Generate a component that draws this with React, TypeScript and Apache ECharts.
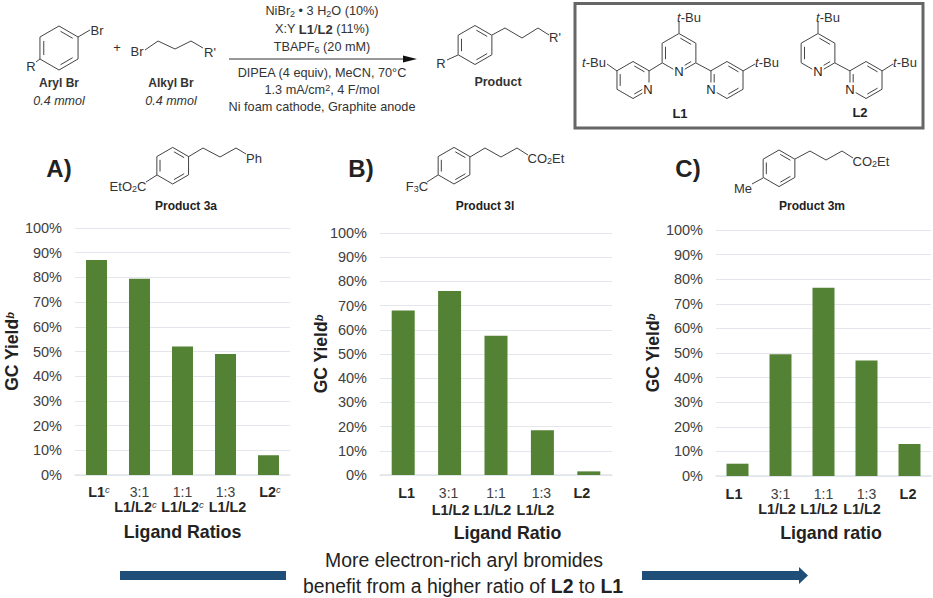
import React, { useEffect, useRef } from "react";
import * as echarts from "echarts";

const FONT = "Liberation Sans";
const INK = "#333333";

const yieldTicks = 10;
const categoriesA = ["L1^c", "3:1\nL1/L2^c", "1:1\nL1/L2^c", "1:3\nL1/L2", "L2^c"];
const categoriesB = ["L1", "3:1\nL1/L2", "1:1\nL1/L2", "1:3\nL1/L2", "L2"];
const categoriesC = ["L1", "3:1\nL1/L2", "1:1\nL1/L2", "1:3\nL1/L2", "L2"];
const yieldA = [87, 79.5, 52, 49, 8];
const yieldB = [68, 76, 57.5, 18.5, 1.5];
const yieldC = [5, 49.5, 76.5, 47, 13];

const richSmall = {
  s: { fontSize: 9, fontFamily: FONT, fill: INK, padding: [5, 0, 0, 0] },
  u: { fontSize: 9, fontFamily: FONT, fill: INK, padding: [0, 0, 5, 0] },
  b: { fontWeight: "bold", fontSize: 13, fontFamily: FONT, fill: INK },
  i: { fontStyle: "italic", fontSize: 13, fontFamily: FONT, fill: INK },
};

function t(text: string, x: number, y: number, o: any = {}) {
  return {
    type: "text",
    x,
    y,
    z: o.z ?? 10,
    style: {
      text,
      fontFamily: FONT,
      fontSize: o.size ?? 13,
      fontWeight: o.weight ?? "normal",
      fontStyle: o.style ?? "normal",
      fill: o.fill ?? INK,
      align: o.align ?? "center",
      verticalAlign: "middle",
      rich: richSmall,
      ...(o.bg ? { backgroundColor: "#fff", padding: [0, 1] } : {}),
    },
  };
}

function ln(x1: number, y1: number, x2: number, y2: number, w = 1, c = "#444444") {
  return { type: "line", z: 5, shape: { x1, y1, x2, y2 }, style: { stroke: c, lineWidth: w } };
}

function chain(pts: number[][]) {
  return { type: "polyline", z: 5, shape: { points: pts }, style: { stroke: "#444444", lineWidth: 1, fill: "none" } };
}

function ring(cx: number, cy: number, r: number) {
  const v: number[][] = [];
  for (let i = 0; i < 6; i++) {
    const a = -Math.PI / 2 + (i * Math.PI) / 3;
    v.push([cx + r * Math.cos(a), cy + r * Math.sin(a)]);
  }
  const out: any[] = [
    { type: "polygon", z: 5, shape: { points: v }, style: { stroke: "#444444", lineWidth: 1, fill: "none" } },
  ];
  [0, 2, 4].forEach((e) => {
    const p = v[e];
    const q = v[(e + 1) % 6];
    const k = 0.8;
    const pi = [cx + (p[0] - cx) * k, cy + (p[1] - cy) * k];
    const qi = [cx + (q[0] - cx) * k, cy + (q[1] - cy) * k];
    const m = 0.1;
    out.push(
      ln(pi[0] + (qi[0] - pi[0]) * m, pi[1] + (qi[1] - pi[1]) * m, qi[0] - (qi[0] - pi[0]) * m, qi[1] - (qi[1] - pi[1]) * m)
    );
  });
  return out;
}

function buildGraphics() {
  const g: any[] = [];
  // reaction scheme
  g.push(...ring(59, 48, 22), ln(78, 37, 90, 30), ln(40, 59, 36, 62));
  g.push(t("Br", 97, 30), t("R", 31, 66));
  g.push(t("Aryl Br", 59, 83, { weight: "bold", size: 12 }), t("0.4 mmol", 59, 101, { style: "italic", size: 12.5 }));
  g.push(t("+", 117, 47, { size: 13 }));
  g.push(t("Br", 137, 51), chain([[145, 50], [158, 41], [175, 49], [191, 41], [203, 48]]), t("R'", 210, 52));
  g.push(t("Alkyl Br", 171, 83, { weight: "bold", size: 12 }), t("0.4 mmol", 171, 101, { style: "italic", size: 12.5 }));
  g.push(t("NiBr{s|2} • 3 H{s|2}O (10%)", 322, 11, { size: 12.7 }));
  g.push(t("X:Y {b|L1}/{b|L2} (11%)", 322, 29, { size: 12.7 }));
  g.push(t("TBAPF{s|6} (20 mM)", 322, 47, { size: 12.7 }));
  g.push(ln(229, 59, 405, 59, 1.2, "#333333"));
  g.push({ type: "polygon", z: 5, shape: { points: [[403, 55.5], [417, 59], [403, 62.5]] }, style: { fill: "#111111" } });
  g.push(t("DIPEA (4 equiv), MeCN, 70°C", 322, 73, { size: 12.7 }));
  g.push(t("1.3 mA/cm{u|2}, 4 F/mol", 322, 90, { size: 12.7 }));
  g.push(t("Ni foam cathode, Graphite anode", 322, 107, { size: 12.7 }));
  g.push(...ring(475, 45, 19.5), chain([[492, 35], [505, 28], [522, 38], [538, 28], [549, 35]]), ln(458, 55, 447, 60));
  g.push(t("R'", 555, 37), t("R", 441, 63), t("Product", 498, 82, { weight: "bold", size: 12.5 }));

  // ligand box
  g.push({ type: "rect", z: 4, shape: { x: 575, y: 3.5, width: 348, height: 124.5 }, style: { stroke: "#666666", lineWidth: 3, fill: "none" } });
  g.push(...ring(679, 53, 19.5), ...ring(633, 80, 18.5), ...ring(727, 80, 18.5));
  g.push(ln(679, 33, 679, 22), ln(649, 71, 662, 63), ln(696, 63, 711, 71), ln(617, 71, 607, 64), ln(743, 71, 755, 64));
  g.push(t("{i|t}-Bu", 689, 17), t("{i|t}-Bu", 594, 62), t("{i|t}-Bu", 767, 62));
  g.push(t("N", 679, 71, { bg: true, fill: "#222" }), t("N", 648, 89, { bg: true, fill: "#222" }), t("N", 711, 89, { bg: true, fill: "#222" }));
  g.push(t("L1", 680, 113, { weight: "bold", fill: "#222" }));
  g.push(...ring(818, 53, 19.5), ...ring(866, 80, 18.5));
  g.push(ln(818, 33, 818, 22), ln(835, 63, 850, 71), ln(882, 71, 893, 64));
  g.push(t("{i|t}-Bu", 828, 17), t("{i|t}-Bu", 905, 62));
  g.push(t("N", 818, 71, { bg: true, fill: "#222" }), t("N", 850, 89, { bg: true, fill: "#222" }));
  g.push(t("L2", 860, 112, { weight: "bold", fill: "#222" }));

  // panel A heading
  g.push(t("A)", 59, 168, { weight: "bold", size: 24, fill: "#222" }));
  g.push(...ring(172.7, 165.7, 18.3), chain([[188, 157], [203, 148], [220, 157], [236, 148], [246, 154]]), ln(157, 175, 146, 182));
  g.push(t("Ph", 254, 158), t("EtO{s|2}C", 128, 186));
  g.push(t("Product 3a", 186, 206, { weight: "bold", size: 12, fill: "#222" }));
  // panel B heading
  g.push(t("B)", 361, 168, { weight: "bold", size: 24, fill: "#222" }));
  g.push(...ring(454, 165.7, 18.3), chain([[470, 157], [485, 148], [501, 157], [517, 148], [528, 155]]), ln(438, 175, 427, 182));
  g.push(t("CO{s|2}Et", 546, 158), t("F{s|3}C", 417, 186));
  g.push(t("Product 3l", 485, 206, { weight: "bold", size: 12, fill: "#222" }));
  // panel C heading
  g.push(t("C)", 688, 168, { weight: "bold", size: 24, fill: "#222" }));
  g.push(...ring(779, 168.3, 18.3), chain([[795, 159], [810, 151], [826, 160], [842, 151], [853, 158]]), ln(763, 178, 752, 184));
  g.push(t("CO{s|2}Et", 871, 161), t("Me", 743, 188));
  g.push(t("Product 3m", 812, 206, { weight: "bold", size: 12, fill: "#222" }));

  // bottom message
  g.push(t("More electron-rich aryl bromides", 464, 560, { size: 19.4, fill: "#222" }));
  g.push({
    type: "text", x: 463, y: 586, z: 10,
    style: {
      text: "benefit from a higher ratio of {b|L2} to {b|L1}",
      fontFamily: FONT, fontSize: 19.4, fill: "#222", align: "center", verticalAlign: "middle",
      rich: { b: { fontWeight: "bold", fontSize: 19.4, fontFamily: FONT, fill: "#222" } },
    },
  });
  g.push({ type: "rect", z: 5, shape: { x: 120, y: 571, width: 166, height: 9 }, style: { fill: "#1f4e79" } });
  g.push({
    type: "polygon", z: 5,
    shape: { points: [[642, 571], [799, 571], [799, 567], [808, 575.5], [799, 584], [799, 580], [642, 580]] },
    style: { fill: "#1f4e79" },
  });
  return g;
}

// The reference's labels are pasted text: each line sits a little off its bar.
function labelKit(lh: number, shift1: number[], shift2: number[]) {
  const base: Record<string, any> = {
    b: { fontFamily: FONT, fontWeight: "bold", fontSize: 14.4, color: "#262626", lineHeight: lh, padding: [0, 0, 0, 0] },
    n: { fontFamily: FONT, fontSize: 14, color: "#404040", lineHeight: lh, padding: [0, 0, 0, 0] },
    c: { fontFamily: FONT, fontStyle: "italic", fontSize: 9.5, color: "#404040", padding: [0, 0, 6, 0] },
  };
  const rich: Record<string, any> = {};
  Object.keys(base).forEach((k) => (rich[k] = base[k]));
  const line = (raw: string, shift: number) => {
    const [main, sup] = raw.split("^");
    const tokens: { key: string; text: string }[] = [{ key: /^L/.test(main) ? "b" : "n", text: main }];
    if (sup) tokens.push({ key: "c", text: sup });
    const pad = Math.round(Math.abs(shift) * 2);
    const idx = shift > 0 ? 0 : tokens.length - 1;
    return tokens
      .map((tk, i) => {
        if (!pad || i !== idx) return `{${tk.key}|${tk.text}}`;
        const name = `${tk.key}${shift > 0 ? "L" : "R"}${pad}`;
        const p = base[tk.key].padding;
        rich[name] = { ...base[tk.key], padding: shift > 0 ? [p[0], p[1], p[2], pad] : [p[0], pad, p[2], p[3]] };
        return `{${name}|${tk.text}}`;
      })
      .join("");
  };
  const formatter = (value: string, index: number) => {
    const parts = value.split("\n");
    const first = line(parts[0], shift1[index]);
    return parts[1] ? `${first}\n${line(parts[1], shift2[index])}` : first;
  };
  return { rich, formatter };
}

function panel(
  i: number, cats: string[], vals: number[], barWidth: number, title: string,
  nameGapY: number, nameGapX: number, lh: number, margin: number,
  shift1: number[], shift2: number[], titleShift: number
) {
  const kit = labelKit(lh, shift1, shift2);
  // build every style up front: rich is read once, when the option is set
  cats.forEach((c, k) => kit.formatter(c, k));
  return {
    x: {
      type: "category", gridIndex: i, data: cats,
      axisTick: { show: false },
      axisLine: { lineStyle: { color: "#dfe3ea", width: 1.5 } },
      axisLabel: { interval: 0, margin, fontFamily: FONT, lineHeight: lh, rich: kit.rich, formatter: kit.formatter },
      name: title, nameLocation: "middle", nameGap: nameGapX,
      nameTextStyle: {
        fontFamily: FONT, fontWeight: "bold", fontSize: 17.8, color: "#222222",
        padding: [0, 0, 0, titleShift * 2],
      },
    },
    y: {
      type: "value", gridIndex: i, min: 0, max: 100, interval: yieldTicks,
      axisLine: { show: false }, axisTick: { show: false },
      splitLine: { lineStyle: { color: "#e3e6ec", width: 1 } },
      axisLabel: { margin: 13, fontFamily: FONT, fontSize: 14.5, color: "#404040", formatter: "{value}%" },
      name: "{t|GC Yield}{s|b}", nameLocation: "middle", nameRotate: 90, nameGap: nameGapY,
      nameMoveOverlap: false,
      nameTextStyle: {
        fontFamily: FONT, fontWeight: "bold", fontSize: 17.5, color: "#222222",
        rich: {
          t: { fontFamily: FONT, fontWeight: "bold", fontSize: 17.5, color: "#222222" },
          s: { fontFamily: FONT, fontStyle: "italic", fontSize: 11, color: "#222222", padding: [0, 0, 5, 0] },
        },
      },
    },
    s: {
      type: "bar", xAxisIndex: i, yAxisIndex: i, data: vals, barWidth,
      itemStyle: { color: "#548235" },
    },
  };
}

export default function App() {
  const ref = useRef<HTMLDivElement>(null);
  useEffect(() => {
    document.body.style.margin = "0";
    const chart = echarts.init(ref.current!, undefined, { renderer: "svg" });
    const panels = [
      panel(0, categoriesA, yieldA, 21, "Ligand Ratios", 54, 48, 15, 9.5,
        [2.5, 0, 0, 0, 1.5], [0, -4, 0, 2, 0], 0),
      panel(1, categoriesB, yieldB, 23, "Ligand Ratio", 50, 49, 17, 9,
        [3.5, -1, 0, -1, -7], [0, 1, -3.5, -7, 0], 11.5),
      panel(2, categoriesC, yieldC, 22, "Ligand ratio", 54, 48, 15.5, 10,
        [-3.5, 0, 0, 0, -1.5], [0, -3.5, -4.5, -4.5, 0], 7.5),
    ];
    chart.setOption({
      animation: false,
      backgroundColor: "#ffffff",
      grid: [
        { left: 75, width: 215, top: 228, height: 247 },
        { left: 380, width: 232, top: 233, height: 242 },
        { left: 716, width: 215, top: 230, height: 246 },
      ],
      xAxis: panels.map((p) => p.x),
      yAxis: panels.map((p) => p.y),
      series: panels.map((p) => p.s),
      graphic: { elements: buildGraphics() },
    });
    return () => chart.dispose();
  }, []);
  return <div ref={ref} style={{ width: 933, height: 598, position: "absolute", left: 0, top: 0 }} />;
}
